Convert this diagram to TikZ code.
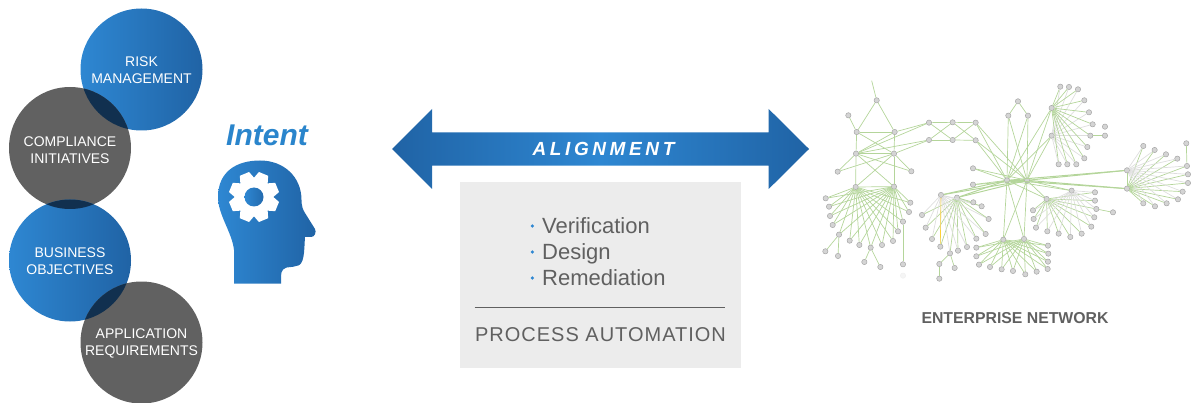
\documentclass[tikz,border=0pt]{standalone}
\usepackage{fontspec}
\setmainfont{Liberation Sans}
\newfontfamily\alignfont[LetterSpace=19]{Liberation Sans}
\newfontfamily\procfont[LetterSpace=5]{Liberation Sans}
\usetikzlibrary{positioning}
\definecolor{blueL}{HTML}{2E87D2}
\definecolor{blueR}{HTML}{2063A5}
\definecolor{darkgrey}{HTML}{616161}
\definecolor{overlap}{HTML}{11304F}
\definecolor{boxgrey}{HTML}{ECECEC}
\definecolor{textgrey}{HTML}{606060}
\definecolor{netgreen}{HTML}{B4D59A}
\definecolor{intentblue}{HTML}{2A85CC}
\tikzset{
  bluefade/.style={left color=blueL,right color=blueR},
  bubble/.style={circle,minimum size=122pt,inner sep=0pt},
  bubbletext/.style={text=white,align=center,font=\fontsize{14}{17.3}\selectfont},
  listitem/.style={anchor=west,inner sep=0pt,text=textgrey,text height=16pt,text depth=5pt,
    font=\fontsize{22}{26}\selectfont},
  bulletdot/.style={circle,fill=blueL,minimum size=3.6pt,inner sep=0pt,yshift=2.5pt},
  netnode/.style={circle,draw=black!35,fill=black!17,line width=0.5pt,minimum size=5.3pt,inner sep=0pt},
  netedge/.style={draw=netgreen,line width=0.7pt},
  netpale/.style={draw=black!13,line width=0.7pt},
  nethub/.style={draw=netgreen,line width=1pt}
}
\begin{document}
\begin{tikzpicture}[x=1pt,y=-1pt]
  \useasboundingbox (0,0) rectangle (1196,403);

  % left column
  \node[bubble,bluefade] (risk) at (141.5,69.5) {};
  \node[bubble,fill=darkgrey] (compl) at (70,148) {};
  \node[bubble,bluefade] (biz) at (70,260.5) {};
  \node[bubble,fill=darkgrey] (app) at (141.5,342.5) {};
  \begin{scope}
    \clip (risk.center) circle (61);
    \fill[overlap] (compl.center) circle (61);
  \end{scope}
  \begin{scope}
    \clip (compl.center) circle (61);
    \fill[overlap] (biz.center) circle (61);
  \end{scope}
  \begin{scope}
    \clip (biz.center) circle (61);
    \fill[overlap] (app.center) circle (61);
  \end{scope}
  \node[bubbletext] (risktext) at ([yshift=-1pt]risk.center) {RISK\\MANAGEMENT};
  \node[bubbletext] (compltext) at ([yshift=-2pt]compl.center) {COMPLIANCE\\INITIATIVES};
  \node[bubbletext] (biztext) at ([yshift=-1pt]biz.center) {BUSINESS\\OBJECTIVES};
  \node[bubbletext] (apptext) at ([yshift=-1pt]app.center) {APPLICATION\\REQUIREMENTS};

  % head with gear
  \node[text=intentblue,font=\fontsize{30}{30}\selectfont\bfseries\itshape] (intent) at (267,135) {Intent};
  \shade[bluefade] (234,283.5) -- (234,250) .. controls (232,232) and (218,215) .. (218,197)
    .. controls (218,172) and (236,160.5) .. (260,160.5)
    .. controls (284,160.5) and (301.5,177) .. (301.5,200)
    .. controls (301.5,206) and (303,210) .. (305,213) -- (315,229)
    .. controls (316.5,232) and (315,237) .. (311,237) -- (305,237)
    .. controls (304,250) and (305,266) .. (296,266) -- (292,267) -- (291,267)
    .. controls (284,267) and (281,270) .. (281,276) -- (281,283.5) -- cycle;
  \fill[white] (254,197) circle (18.5);
  \foreach \ang in {22.5,67.5,...,337.5}
    \fill[white,rotate around={\ang:(254,197)}] (270,189) -- (279,192) -- (279,202) -- (270,205) -- cycle;
  \shade[left color=blueL,right color=blueR!80!blueL] (254,197) circle (9.5);

  % arrow
  \shade[left color=blueR,right color=blueR,middle color=blueL]
    (392,149) -- (432,109) -- (432,132.3) -- (768.7,132.3) -- (768.7,109) -- (809,149)
    -- (768.7,189) -- (768.7,165.7) -- (432,165.7) -- (432,189) -- cycle;
  \node[text=white,font=\alignfont\fontsize{19}{19}\selectfont\bfseries\itshape] (align) at (603.5,149) {ALIGNMENT};

  % process box
  \fill[boxgrey] (460,181.7) rectangle (741,367.7);
  \node[listitem] (verify) at (542,228.5) {Verification};
  \node[listitem,below=26pt of verify.west,anchor=west] (design) {Design};
  \node[listitem,below=26pt of design.west,anchor=west] (remed) {Remediation};
  \node[bulletdot,left=7.6pt of verify.west] (dot1) {};
  \node[bulletdot,left=7.6pt of design.west] (dot2) {};
  \node[bulletdot,left=7.6pt of remed.west] (dot3) {};
  \coordinate (ruleL) at (474.7,307);
  \coordinate (ruleR) at (724.7,307);
  \draw[textgrey,line width=0.7pt] (ruleL) -- (ruleR);
  \node[text=textgrey,font=\procfont\fontsize{20}{20}\selectfont] (proc) at (600.5,335) {PROCESS AUTOMATION};

  \node[text=textgrey,font=\fontsize{15.8}{16}\selectfont\bfseries] (entnet) at (1015,318) {ENTERPRISE NETWORK};

  % network
  \begin{scope}[shift={(810,70)},x=0.3333pt,y=-0.3333pt]
    \coordinate (top) at (185,32);
    \foreach \name/\px/\py in {a/200/91,b/115/136,c/140/186,d/254/186,e/138/251,f/252/251,g/83/305,h/304/304,i/137/351,j/252/350,
        m1/357/158,m2/428/157,m3/497/158,n1/357/210,n2/428/210,n3/497/211,
        hub1/591/331,hub2/651/331,p1/624/94,p2/595/137,p3/654/137,q1/725/114,q2/725/197,
        s1/489/295,s2/489/344,r1/951/301,r2/951/356,u1/393/375,u2/441/383,
        v1/710/387,v2/785/362,w1/580/509,w2/642/507}
      \node[netnode] (\name) at (\px,\py) {};

    % leaves of the fans
    \foreach \px/\py [count=\k] in {47/385,57/410,60/438,68/465,87/494,119/512,148/525,182/533,216/525,249/513,264/484,279/455,297/426,301/398}
      {\node[netnode] (il\k) at (\px,\py) {};
       \path (i) edge[netedge] (il\k) (j) edge[netedge] (il\k);}
    \foreach \px/\py [count=\k] in {751/50,777/51,804/58,823/91,837/127,848/163,841/197,832/231,823/265,799/283,772/283,746/283}
      {\node[netnode] (ql\k) at (\px,\py) {};
       \path (q1) edge[netedge] (ql\k) (q2) edge[netpale] (ql\k);}
    \foreach \px/\py [count=\k] in {1000/228,1034/240,1068/253,1102/266,1131/288,1134/313,1134/339,1118/365,1104/388,1070/400,1035/409,1000/400}
      {\node[netnode] (rl\k) at (\px,\py) {};
       \path (r1) edge[netpale] (rl\k) (r2) edge[netedge] (rl\k);}
    \foreach \px/\py [count=\k] in {336/435,347/473,366/507,391/530,420/550,444/542,471/531,499/506,527/492,536/447,515/409,490/397}
      {\node[netnode] (ul\k) at (\px,\py) {};
       \path (u1) edge[netpale] (ul\k) (u2) edge[netedge] (ul\k);}
    \foreach \px/\py [count=\k] in {855/367,855/392,859/417,853/442,844/470,815/491,781/501,746/491,712/484,678/473,671/447,669/421}
      {\node[netnode] (vl\k) at (\px,\py) {};
       \path (v1) edge[netedge] (vl\k) (v2) edge[netpale] (vl\k);}
    \foreach \px/\py [count=\k] in {714/527,715/551,714/575,713/597,680/605,646/613,609/603,575/598,540/591,507/584,499/559,499/533}
      {\node[netnode] (wl\k) at (\px,\py) {};
       \path (w1) edge[netedge] (wl\k) (w2) edge[netedge] (wl\k);}

    % single leaves
    \foreach \name/\px/\py in {x1/885/170,x2/885/197,x3/1129/220,x4/909/427,x5/46/544,x6/84/558,x7/163/576,x8/211/591,x9/279/583,
        y1/388/582,y2/434/594,y3/388/626}
      \node[netnode] (\name) at (\px,\py) {};
    \node[netnode,draw=black!6,fill=black!4] (x10) at (279,617) {};

    \path (top) edge[netedge] (a)
      (a) edge[netedge] (c) (a) edge[netedge] (d) (b) edge[netedge] (c)
      (c) edge[netedge] (d) (c) edge[netedge] (e) (d) edge[netedge] (f)
      (c) edge[netedge] (f) (d) edge[netedge] (e) (e) edge[netedge] (f)
      (e) edge[netedge] (g) (f) edge[netedge] (g) (e) edge[netedge] (h) (f) edge[netedge] (h)
      (e) edge[netedge] (i) (f) edge[netedge] (j) (e) edge[netedge] (j) (f) edge[netedge] (i) (i) edge[netedge] (j)
      (m1) edge[netedge] (m2) (m2) edge[netedge] (m3) (n1) edge[netedge] (n2) (n2) edge[netedge] (n3)
      (m1) edge[netedge] (n2) (n1) edge[netedge] (m2) (m2) edge[netedge] (n3) (n2) edge[netedge] (m3)
      (d) edge[netedge] (m1) (e) edge[netedge] (m1) (e) edge[netedge] (n1) (f) edge[netedge] (n1)
      (m3) edge[netedge] (hub1) (n3) edge[netedge] (hub1) (m3) edge[netedge] (hub2) (n3) edge[netedge] (hub2)
      (p1) edge[netedge] (p2) (p1) edge[netedge] (p3) (p2) edge[netedge] (hub1) (p3) edge[netedge] (hub2)
      (p2) edge[netedge] (hub2) (p3) edge[netedge] (hub1)
      (q1) edge[netedge] (hub1) (q1) edge[netedge] (hub2) (q2) edge[netedge] (hub1) (q2) edge[netedge] (hub2)
      (s1) edge[netedge] (hub1) (s1) edge[netedge] (hub2) (s2) edge[netedge] (hub1) (s2) edge[netedge] (hub2)
      (hub1) edge[nethub] (hub2)
      (hub1) edge[nethub] (r1) (hub2) edge[nethub] (r1) (hub1) edge[nethub] (r2) (hub2) edge[nethub] (r2) (r1) edge[netedge] (r2)
      (hub1) edge[nethub] (u1) (hub2) edge[nethub] (u1) (hub1) edge[nethub] (u2) (hub2) edge[nethub] (u2)
      (hub1) edge[netedge] (v1) (hub2) edge[netedge] (v1) (hub1) edge[netedge] (v2) (hub2) edge[netedge] (v2)
      (hub1) edge[netedge] (w2) (hub2) edge[netedge] (w1) (hub1) edge[netedge] (w1) (hub2) edge[netedge] (w2)
      (ql7) edge[netedge] (x2) (rl5) edge[netedge] (x3) (vl3) edge[netedge] (x4)
      (il5) edge[netedge] (x5) (il5) edge[netedge] (x6) (il8) edge[netedge] (x7) (il8) edge[netedge] (x8) (il12) edge[netedge] (x9)
      (ul5) edge[netedge] (y1) (ul5) edge[netedge] (y2) (y1) edge[netedge] (y3)
      (u1) edge[draw=yellow!60!orange!80!white,line width=0.6pt] (ul4);
  \end{scope}
\end{tikzpicture}
\end{document}
